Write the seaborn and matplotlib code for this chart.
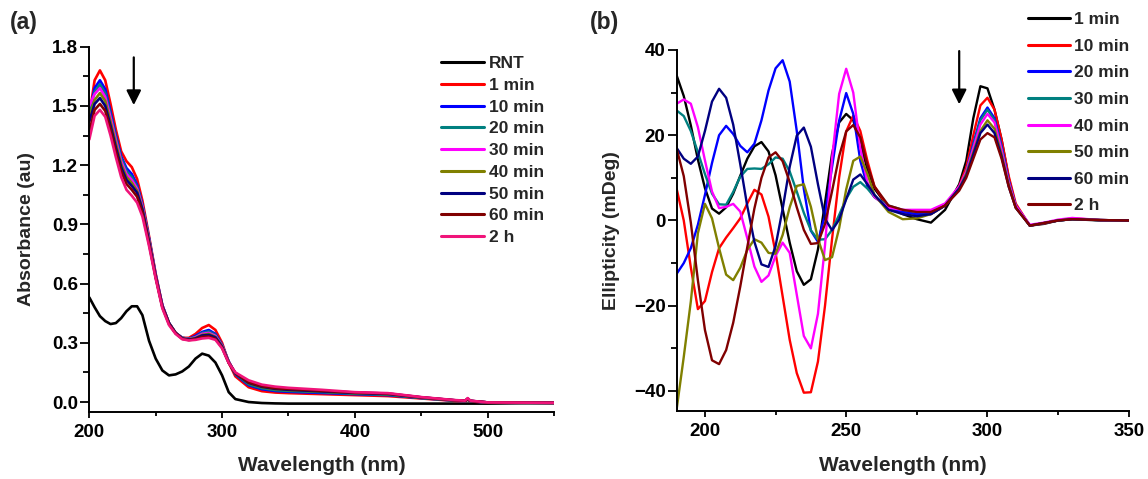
import numpy as np
import pandas as pd
import matplotlib
matplotlib.use("Agg")
import matplotlib.pyplot as plt
from matplotlib.ticker import MultipleLocator
import seaborn as sns

# ---------------- Panel (a): UV-Vis absorbance ----------------
wl_a = [200, 204, 208, 212, 216, 220, 224, 228, 232, 236, 240,
        245, 250, 255, 260, 265, 270, 275, 280, 285, 290, 295, 300, 305, 310,
        320, 330, 340, 350, 375, 400, 425, 450, 475, 483, 485, 487, 500, 525, 550]

abs_rnt = [.53, .48, .435, .41, .395, .40, .425, .46, .485, .485, .44,
           .31, .22, .16, .135, .14, .155, .18, .22, .245, .235, .2, .135, .05, .015,
           .0, -.005, -.007, -.008, -.008, -.008, -.008, -.008, -.008, -.008, -.008, -.008, -.008, -.006, -.005]
abs_1min = [1.45, 1.63, 1.68, 1.63, 1.51, 1.38, 1.27, 1.22, 1.19, 1.13, 1.02,
            0.84, 0.65, 0.49, 0.40, 0.35, 0.325, 0.325, 0.345, 0.375, 0.39, 0.365, 0.30, 0.20, 0.13,
            0.075, 0.055, 0.048, 0.045, 0.04, 0.035, 0.03, 0.018, 0.006, 0.003, 0.012, 0.003, -0.003, -0.004, -0.005]
abs_10min = [1.46, 1.59, 1.63, 1.585, 1.47, 1.35, 1.245, 1.185, 1.155, 1.10, 1.00,
             0.83, 0.645, 0.49, 0.40, 0.35, 0.325, 0.32, 0.335, 0.355, 0.365, 0.345, 0.29, 0.205, 0.14,
             0.085, 0.065, 0.056, 0.052, 0.046, 0.04, 0.035, 0.02, 0.007, 0.004, 0.014, 0.004, -0.003, -0.004, -0.005]
abs_20min = [1.47, 1.57, 1.61, 1.565, 1.455, 1.34, 1.235, 1.17, 1.14, 1.09, 0.995,
             0.825, 0.64, 0.49, 0.40, 0.35, 0.325, 0.32, 0.33, 0.35, 0.357, 0.34, 0.287, 0.205, 0.143,
             0.09, 0.07, 0.06, 0.056, 0.05, 0.042, 0.037, 0.021, 0.008, 0.005, 0.015, 0.005, -0.002, -0.004, -0.005]
abs_30min = [1.50, 1.56, 1.59, 1.545, 1.44, 1.325, 1.22, 1.155, 1.125, 1.08, 0.99,
             0.82, 0.64, 0.49, 0.40, 0.35, 0.323, 0.318, 0.328, 0.345, 0.35, 0.335, 0.285, 0.205, 0.147,
             0.1, 0.08, 0.07, 0.065, 0.057, 0.048, 0.043, 0.024, 0.009, 0.006, 0.017, 0.006, -0.002, -0.003, -0.004]
abs_40min = [1.44, 1.53, 1.565, 1.525, 1.42, 1.31, 1.205, 1.14, 1.11, 1.07, 0.98,
             0.815, 0.635, 0.485, 0.40, 0.35, 0.322, 0.317, 0.325, 0.34, 0.345, 0.33, 0.283, 0.203, 0.145,
             0.095, 0.075, 0.065, 0.06, 0.053, 0.045, 0.04, 0.022, 0.008, 0.005, 0.015, 0.005, -0.002, -0.004, -0.005]
abs_50min = [1.42, 1.51, 1.54, 1.50, 1.40, 1.29, 1.19, 1.125, 1.095, 1.06, 0.975,
             0.81, 0.635, 0.485, 0.40, 0.35, 0.322, 0.316, 0.322, 0.337, 0.34, 0.327, 0.28, 0.2, 0.145,
             0.097, 0.077, 0.067, 0.062, 0.054, 0.046, 0.041, 0.023, 0.009, 0.006, 0.016, 0.006, -0.002, -0.003, -0.004]
abs_60min = [1.37, 1.48, 1.51, 1.475, 1.38, 1.27, 1.17, 1.105, 1.075, 1.04, 0.96,
             0.80, 0.63, 0.48, 0.395, 0.348, 0.32, 0.314, 0.318, 0.33, 0.332, 0.32, 0.275, 0.198, 0.147,
             0.1, 0.08, 0.07, 0.066, 0.057, 0.048, 0.043, 0.024, 0.009, 0.006, 0.017, 0.006, -0.002, -0.003, -0.004]
abs_2h = [1.33, 1.45, 1.48, 1.445, 1.35, 1.24, 1.14, 1.075, 1.045, 1.01, 0.94,
          0.79, 0.625, 0.475, 0.39, 0.345, 0.318, 0.312, 0.315, 0.322, 0.325, 0.315, 0.272, 0.198, 0.15,
          0.11, 0.088, 0.078, 0.072, 0.062, 0.05, 0.045, 0.025, 0.01, 0.007, 0.02, 0.007, -0.002, -0.003, -0.004]

labels_a = ["RNT", "1 min", "10 min", "20 min", "30 min", "40 min", "50 min", "60 min", "2 h"]
series_a = [abs_rnt, abs_1min, abs_10min, abs_20min, abs_30min, abs_40min, abs_50min, abs_60min, abs_2h]
colors_a = ["#000000", "#FF0000", "#0000FF", "#008080", "#FF00FF", "#808000", "#000080", "#800000", "#F0147A"]

# ---------------- Panel (b): CD ellipticity ----------------
wl_b = [190, 192.5, 195, 197.5, 200, 202.5, 205, 207.5, 210, 212.5, 215, 217.5, 220, 222.5, 225,
        227.5, 230, 232.5, 235, 237.5, 240, 242.5, 245, 247.5, 250, 252.5, 255, 257.5, 260,
        265, 270, 275, 280, 285, 290, 292.5, 295, 297.5, 300, 302.5, 305, 307.5, 310,
        315, 320, 325, 330, 340, 350]

cd_1min = [34, 29.2, 22.3, 14.3, 7.6, 2.8, 1.6, 3.1, 6.3, 10.5, 14.5, 17.4, 18.4, 16.2, 10.6,
           2.7, -5.2, -11.9, -15.1, -13.8, -6.8, 4.1, 15.7, 23, 25, 23.5, 18, 12, 7.5,
           3, 1.5, 0.3, -0.5, 2.5, 8.5, 14, 24, 31.5, 31, 26, 19, 10, 3.5,
           -1.2, -0.8, 0, 0.3, 0, 0]
cd_10min = [7.4, 0, -11, -20.8, -18.9, -12.1, -6.5, -4, -1.8, 0.5, 4, 7.2, 6.1, 0.9, -7.6,
            -17.8, -28, -35.8, -40.4, -40.3, -33.1, -20, -4.3, 10.1, 20.9, 24.6, 21, 14, 8,
            3, 2, 1.5, 1.5, 3.5, 8, 12.5, 20, 27, 28.8, 26, 19, 10.5, 4,
            -1.2, -0.7, 0, 0.5, 0.1, 0]
cd_20min = [-12.5, -10, -6.5, -1, 6, 13.5, 20, 22.2, 20.3, 17.5, 16, 18, 23.5, 30.5, 35.7,
            37.6, 32.6, 21, 7.4, -2.4, -5, 1.3, 12.6, 23.4, 29.9, 25, 14, 8, 5.5,
            3, 2, 1.5, 1.5, 3.5, 7.5, 11.5, 18, 24, 26.5, 24, 17.5, 9.5, 3.5,
            -1.2, -0.6, 0, 0.3, 0.1, 0]
cd_30min = [25.8, 24.5, 21, 16, 10.9, 6.3, 3.8, 3.7, 6.7, 10.3, 12.1, 12.2, 12.1, 13.2, 14.8,
            14.5, 11.5, 6.8, 1.8, -2.3, -4.5, -4.4, -2.2, 1.3, 5.1, 7.9, 9, 7.5, 5.5,
            3.5, 2.5, 2, 2, 3.5, 7.5, 11.5, 17.5, 23.5, 26, 23.5, 17, 9, 3.5,
            -1.2, -0.6, 0, 0.3, 0.1, 0]
cd_40min = [27.4, 28.4, 27.4, 21.9, 14.1, 6.8, 2.9, 3.2, 3.9, 2.1, -4.2, -10.8, -14.4, -12.9, -8.3,
            -5.2, -7.6, -17.4, -27.1, -30, -21.9, -5.8, 14.6, 29.7, 35.6, 30, 17, 9, 5.5,
            3, 2.5, 2.5, 2.5, 4, 8, 11.5, 17, 22.5, 25, 23, 16.5, 9, 3.5,
            -1, -0.5, 0.2, 0.6, 0.1, 0]
cd_50min = [-44.2, -32, -19, -3, 3.9, 0.5, -6.5, -12.7, -14, -11.1, -6.9, -4.4, -5.2, -7.6, -7.8,
            -3.4, 3.1, 8.1, 8.5, 3.2, -4.3, -9.3, -8.6, -1.8, 7.3, 14, 15, 11, 6,
            2, 0.3, 0.5, 1.5, 3.5, 7.5, 11, 16, 21, 23.5, 21.5, 15.5, 8.5, 3,
            -1.2, -0.6, 0, 0.3, 0.1, 0]
cd_60min = [17, 14.5, 13.3, 15, 21, 27.9, 30.9, 28.8, 22.5, 13.2, 3.3, -5, -10.3, -10.9, -6,
            2.7, 12.6, 19.9, 21.8, 17.3, 8.5, 0.4, -2.3, 0.2, 5, 9.6, 10.8, 8.5, 6,
            2.5, 1.5, 1, 1.5, 3.5, 7.5, 10.5, 15.5, 20.5, 22.5, 20.5, 15, 8, 3,
            -1.2, -0.6, 0, 0.3, 0.1, 0]
cd_2h = [16.8, 10.4, -0.5, -14, -25.7, -32.8, -33.7, -30.4, -24, -15.5, -6.2, 2.8, 10, 14.8, 16,
         13.9, 9, 3.1, -2.2, -5.5, -5.3, -0.8, 6.9, 15.1, 20.9, 22.4, 19.5, 13, 8,
         3.5, 2.5, 2, 2, 3.5, 7, 10, 14.5, 19, 20.5, 19.5, 14.5, 8, 3,
         -1.2, -0.6, 0, 0.3, 0.1, 0]

labels_b = ["1 min", "10 min", "20 min", "30 min", "40 min", "50 min", "60 min", "2 h"]
series_b = [cd_1min, cd_10min, cd_20min, cd_30min, cd_40min, cd_50min, cd_60min, cd_2h]
colors_b = ["#000000", "#FF0000", "#0000FF", "#008080", "#FF00FF", "#808000", "#000080", "#800000"]

# long-form tables
df_a = pd.concat([pd.DataFrame({"wl": wl_a, "val": s, "series": lab})
                  for lab, s in zip(labels_a, series_a)], ignore_index=True)
df_b = pd.concat([pd.DataFrame({"wl": wl_b, "val": s, "series": lab})
                  for lab, s in zip(labels_b, series_b)], ignore_index=True)

sns.set_style("ticks")
plt.rcParams["font.family"] = ["Liberation Sans", "DejaVu Sans"]
plt.rcParams["font.weight"] = "bold"
plt.rcParams["axes.labelweight"] = "bold"
plt.rcParams["lines.solid_joinstyle"] = "round"
plt.rcParams["lines.solid_capstyle"] = "round"

W, H = 1148, 479
fig = plt.figure(figsize=(W / 100, H / 100), dpi=100)

def px_axes(l, r, t, b):
    return fig.add_axes([l / W, 1 - b / H, (r - l) / W, (b - t) / H])

ax_a = px_axes(89.3, 554, 46.7, 411.7)
ax_b = px_axes(676.7, 1128.7, 50, 411)

sns.lineplot(data=df_a, x="wl", y="val", hue="series", hue_order=labels_a,
             palette=dict(zip(labels_a, colors_a)), sort=False, estimator=None,
             linewidth=1.9, ax=ax_a)
sns.lineplot(data=df_b, x="wl", y="val", hue="series", hue_order=labels_b,
             palette=dict(zip(labels_b, colors_b)), sort=False, estimator=None,
             linewidth=1.7, ax=ax_b)

TICK_FS = 13.5

def style_axes(ax):
    for s in ["top", "right"]:
        ax.spines[s].set_visible(False)
    for s in ["left", "bottom"]:
        ax.spines[s].set_linewidth(1.4)
        ax.spines[s].set_color("black")
    ax.tick_params(axis="both", which="both", direction="out", width=1.3, colors="black",
                   labelsize=TICK_FS)
    ax.tick_params(axis="x", which="major", length=4.5, pad=4.5)
    ax.tick_params(axis="x", which="minor", length=2.8)
    ax.tick_params(axis="y", which="major", length=6.5, pad=1.5)
    ax.tick_params(axis="y", which="minor", length=4)
    for lab in ax.get_xticklabels() + ax.get_yticklabels():
        lab.set_fontweight("bold")

ax_a.set_xlim(200, 550)
ax_a.set_ylim(-0.049, 1.8)
ax_a.xaxis.set_major_locator(MultipleLocator(100))
ax_a.xaxis.set_minor_locator(MultipleLocator(50))
ax_a.yaxis.set_major_locator(MultipleLocator(0.3))
ax_a.yaxis.set_minor_locator(MultipleLocator(0.15))
ax_a.yaxis.set_major_formatter(matplotlib.ticker.FormatStrFormatter("%.1f"))
style_axes(ax_a)
ax_a.set_xlabel("Wavelength (nm)", fontsize=15, fontweight="bold", labelpad=11)
ax_a.set_ylabel("Absorbance (au)", fontsize=14, fontweight="bold", labelpad=12)

ax_b.set_xlim(190, 350)
ax_b.set_ylim(-44.7, 40)
ax_b.xaxis.set_major_locator(MultipleLocator(50))
ax_b.xaxis.set_minor_locator(MultipleLocator(25))
ax_b.yaxis.set_major_locator(MultipleLocator(20))
ax_b.yaxis.set_minor_locator(MultipleLocator(10))
style_axes(ax_b)
ax_b.set_xlabel("Wavelength (nm)", fontsize=15, fontweight="bold", labelpad=11)
ax_b.set_ylabel("Ellipticity (mDeg)", fontsize=14, fontweight="bold", labelpad=10)

# legends
h, l = ax_a.get_legend_handles_labels()
ax_a.legend(h, l, loc="upper left", bbox_to_anchor=(441 / W, 1 - 56 / H),
            bbox_transform=fig.transFigure, frameon=False,
            prop={"weight": "bold", "size": 12.5}, handlelength=2.5, handletextpad=0.25,
            labelspacing=0.38, borderpad=0, borderaxespad=0)
h, l = ax_b.get_legend_handles_labels()
ax_b.legend(h, l, loc="upper left", bbox_to_anchor=(1028 / W, 1 - 12 / H),
            bbox_transform=fig.transFigure, frameon=False,
            prop={"weight": "bold", "size": 12.5}, handlelength=2.4, handletextpad=0.25,
            labelspacing=0.66, borderpad=0, borderaxespad=0)
for ax in (ax_a, ax_b):
    for line in ax.get_legend().get_lines():
        line.set_linewidth(2.2)

# arrows
ax_a.annotate("", xy=(233.5, 1.49), xytext=(233.5, 1.76),
              arrowprops=dict(arrowstyle="-|>", color="black", lw=1.6, mutation_scale=22))
ax_b.annotate("", xy=(290, 26.6), xytext=(290, 40.4),
              arrowprops=dict(arrowstyle="-|>", color="black", lw=1.6, mutation_scale=22),
              annotation_clip=False)

# panel labels
fig.text(10 / W, 1 - 23 / H, "(a)", fontsize=16.5, fontweight="bold", va="center", ha="left")
fig.text(590 / W, 1 - 23 / H, "(b)", fontsize=16.5, fontweight="bold", va="center", ha="left")

fig.savefig("out.png", dpi=100)
